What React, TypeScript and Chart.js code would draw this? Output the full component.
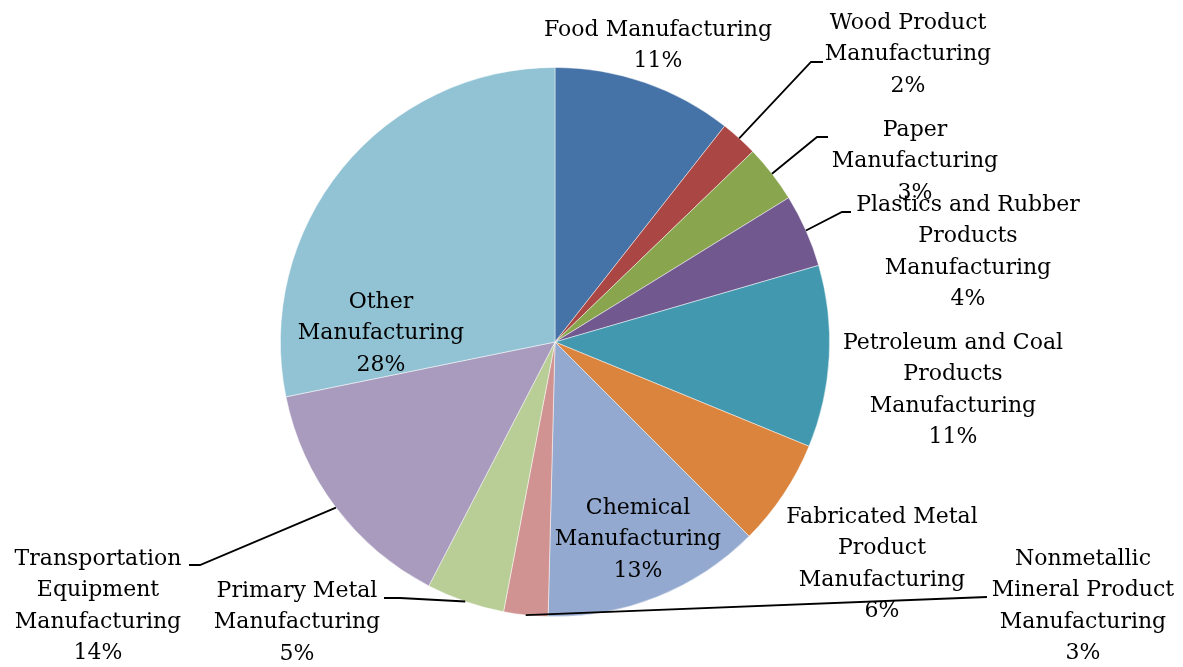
import React, { useEffect, useRef } from "react";
import { Chart, registerables } from "chart.js";

Chart.register(...registerables);

const categories = [
  "Food Manufacturing",
  "Wood Product\nManufacturing",
  "Paper\nManufacturing",
  "Plastics and Rubber\nProducts\nManufacturing",
  "Petroleum and Coal\nProducts\nManufacturing",
  "Fabricated Metal\nProduct\nManufacturing",
  "Chemical\nManufacturing",
  "Nonmetallic\nMineral Product\nManufacturing",
  "Primary Metal\nManufacturing",
  "Transportation\nEquipment\nManufacturing",
  "Other\nManufacturing",
];

const shares = [10.6, 2.2, 3.4, 4.3, 10.7, 6.3, 12.9, 2.6, 4.6, 14.2, 28.2];

const colors = [
  "#4572A7",
  "#AA4643",
  "#89A54E",
  "#71588F",
  "#4198AF",
  "#DB843D",
  "#93A9CF",
  "#D19392",
  "#B9CD96",
  "#A99BBD",
  "#92C3D4",
];

// label layout: [centerX, first line centerY]
const labelPos: [number, number][] = [
  [658, 30],
  [908, 23],
  [915, 130],
  [968, 205],
  [953, 343],
  [882, 517],
  [638, 508],
  [1083, 559],
  [297, 591],
  [98, 559],
  [381, 302],
];

// leader lines: [elbowX, elbowY, endX, endY] or null
const leaders: ([number, number, number, number] | null)[] = [
  null,
  [811, 62, 823, 62],
  [817, 137, 828, 137],
  [842, 212, 851, 212],
  null,
  null,
  null,
  [987, 597, 987, 597],
  [400, 598, 384, 598],
  [200, 565, 189, 565],
  null,
];

const LINE_H = 31.5;
const FONT = "22px 'DejaVu Serif'";

const labelPlugin = {
  id: "pieLabels",
  afterDraw(chart: any) {
    const ctx = chart.ctx;
    const meta = chart.getDatasetMeta(0);
    const data = chart.data.datasets[0].data as number[];
    const total = data.reduce((a, b) => a + b, 0);
    ctx.save();
    // leaders
    ctx.strokeStyle = "#000";
    ctx.lineWidth = 1.8;
    meta.data.forEach((arc: any, i: number) => {
      const l = leaders[i];
      if (!l) return;
      const mid = (arc.startAngle + arc.endAngle) / 2;
      const sx = arc.x + Math.cos(mid) * arc.outerRadius;
      const sy = arc.y + Math.sin(mid) * arc.outerRadius;
      ctx.beginPath();
      ctx.moveTo(sx, sy);
      ctx.lineTo(l[0], l[1]);
      ctx.lineTo(l[2], l[3]);
      ctx.stroke();
    });
    // texts
    ctx.fillStyle = "#000";
    ctx.font = FONT;
    ctx.textAlign = "center";
    ctx.textBaseline = "middle";
    categories.forEach((name, i) => {
      const pct = Math.round((data[i] / total) * 100) + "%";
      const lines = [...name.split("\n"), pct];
      const [cx, cy] = labelPos[i];
      lines.forEach((t, j) => ctx.fillText(t, cx, cy + j * LINE_H));
    });
    ctx.restore();
  },
};

export default function App() {
  const ref = useRef<HTMLCanvasElement>(null);
  useEffect(() => {
    if (!ref.current) return;
    const chart = new Chart(ref.current, {
      type: "pie",
      data: {
        labels: categories,
        datasets: [
          {
            data: shares,
            backgroundColor: colors,
            borderColor: "rgba(255,255,255,0.6)",
            borderWidth: 0.8,
          },
        ],
      },
      options: {
        animation: false,
        responsive: false,
        layout: { padding: { left: 280, right: 353, top: 67, bottom: 50 } },
        plugins: {
          legend: { display: false },
          tooltip: { enabled: false },
        },
      },
      plugins: [labelPlugin],
    });
    return () => chart.destroy();
  }, []);
  return (
    <div style={{ position: "fixed", left: 0, top: 0, width: 1183, height: 667, background: "#fff" }}>
      <canvas ref={ref} width={1183} height={667} style={{ width: 1183, height: 667 }} />
    </div>
  );
}
